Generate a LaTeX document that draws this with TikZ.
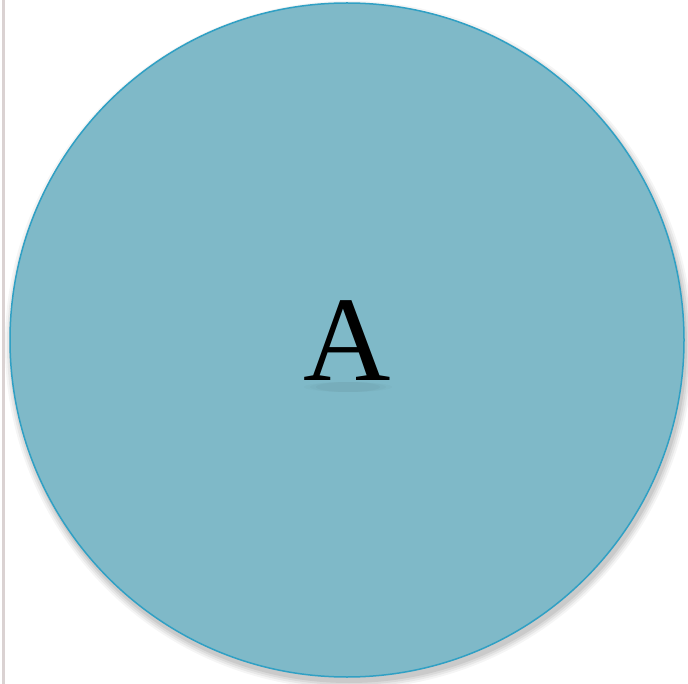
\documentclass[tikz,border=0pt]{standalone}
\usepackage{fontspec}
\setmainfont{Liberation Serif}
\usepackage{tikz}
\definecolor{discfill}{RGB}{127,185,200}
\definecolor{discedge}{RGB}{48,160,196}
\definecolor{framecol}{RGB}{218,210,210}

\begin{document}
\begin{tikzpicture}[x=1pt, y=-1pt, every node/.style={inner sep=0pt}]
  \useasboundingbox (0,0) rectangle (688,684);
  \fill[white] (0,0) rectangle (688,684);
  \draw[framecol, line width=3pt] (3.5,0) -- (3.5,684);
  % soft shadow under the disc
  \foreach \r/\op in {344/0.04,342/0.05,340/0.06,338/0.07}
    \fill[black, opacity=\op] (349,345) circle (\r);
  \node[circle, draw=discedge, fill=discfill, line width=1.5pt,
        minimum size=674pt] (disc) at (347,340) {};
  % faint shadow under the letter
  \foreach \rx/\op in {44/0.015,38/0.02,32/0.025}
    \fill[black, opacity=\op] (348,387) ellipse (\rx pt and 5pt);
  \node[font={\fontsize{121}{121}\selectfont}] (lab) at (347,341) {A};
\end{tikzpicture}
\end{document}
